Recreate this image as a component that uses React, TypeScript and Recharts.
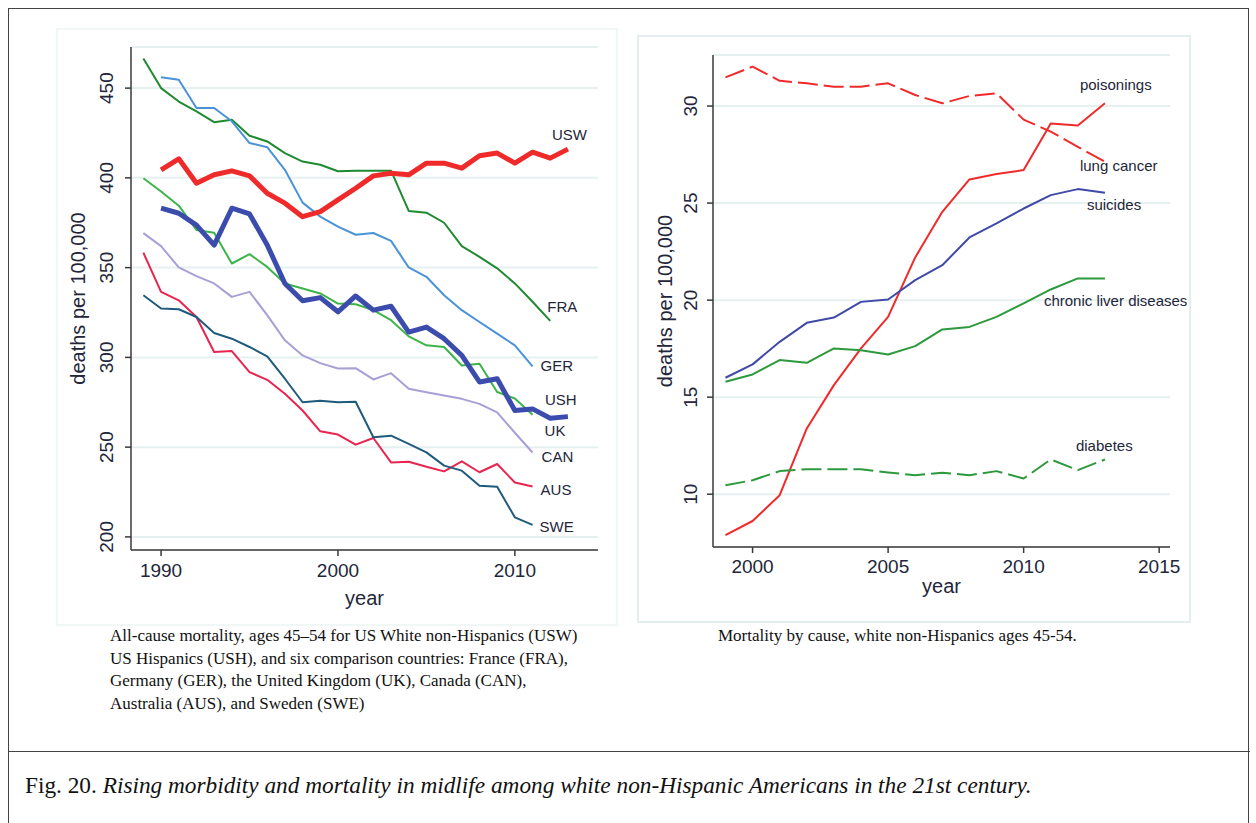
import React from 'react';
import { LineChart, Line, XAxis, YAxis, CartesianGrid, LabelList, Label } from 'recharts';

// ---------- Left panel data: all-cause mortality, ages 45-54 ----------
const leftYears = [1989, 1990, 1991, 1992, 1993, 1994, 1995, 1996, 1997, 1998, 1999, 2000, 2001, 2002, 2003, 2004, 2005, 2006, 2007, 2008, 2009, 2010, 2011, 2012, 2013];
const usw = [null, 404.5, 410.6, 397, 401.7, 403.9, 401.1, 391.4, 385.9, 378.4, 381.2, 387.7, 394.2, 401.1, 402.6, 401.7, 408.2, 408.2, 405.4, 412.3, 413.8, 408.2, 414.3, 411, 416];
const fra = [466.5, 450, 442.5, 437, 431, 432.4, 423.5, 420.3, 413.8, 409.1, 407.3, 403.7, 404, 404, 404, 381.6, 380.6, 375, 362, 356, 349.6, 341.2, 331, 320.3, null];
const ger = [null, 456, 454.7, 438.9, 438.9, 431.5, 419.4, 417.1, 404.5, 386.2, 378.4, 372.8, 368.3, 369.3, 364.9, 350.1, 344.9, 334.6, 326.3, 319.7, 313.2, 306.7, 295, null, null];
const ush = [null, 383.1, 380.3, 373.7, 362.5, 383.1, 379.9, 362.6, 341.2, 331.5, 333.3, 325.4, 334.2, 326.3, 328.5, 314.1, 316.9, 310.4, 301.1, 286.3, 288.1, 270.4, 271.3, 266.1, 267];
const uk = [399.8, 392.4, 384.5, 371, 369.4, 352.3, 357.5, 350.4, 341.2, 338.4, 335.6, 330, 329.6, 326.3, 320.7, 311.7, 306.7, 305.8, 295.5, 296.5, 280.7, 277.1, 268, null, null];
const can = [369.2, 362, 350.1, 345.3, 341.2, 333.7, 336.5, 323.5, 309.5, 301.1, 296.8, 293.8, 294, 287.7, 291.2, 282.5, 280.6, 278.8, 276.9, 274.1, 269.4, 258, 247, null, null];
const aus = [358.3, 336.5, 331.8, 322.5, 303, 303.5, 291.8, 287.5, 279.7, 270.4, 258.8, 257, 251.4, 255.1, 241.5, 241.9, 239.1, 236.5, 242.1, 236, 240.6, 230.3, 228.1, null, null];
const swe = [334.6, 327.2, 326.8, 322.5, 313.6, 310.4, 305.8, 300.6, 288.1, 275, 275.9, 275, 275.3, 255.5, 256.4, 251.8, 247.1, 239.7, 236.9, 228.5, 228, 210.9, 206.7, null, null];
const leftXTicks = [1990, 2000, 2010];
const leftYTicks = [200, 250, 300, 350, 400, 450];

// ---------- Right panel data: mortality by cause ----------
const rightYears = [1999, 2000, 2001, 2002, 2003, 2004, 2005, 2006, 2007, 2008, 2009, 2010, 2011, 2012, 2013];
const lungCancer = [31.48, 32.03, 31.3, 31.17, 31.0, 31.0, 31.17, 30.57, 30.14, 30.52, 30.65, 29.3, 28.68, 27.9, 27.13];
const poisonings = [7.89, 8.62, 9.95, 13.39, 15.62, 17.51, 19.14, 22.2, 24.55, 26.22, 26.5, 26.7, 29.1, 29.0, 30.14];
const suicides = [16.0, 16.69, 17.85, 18.83, 19.1, 19.91, 20.03, 21.03, 21.8, 23.23, 23.95, 24.72, 25.41, 25.72, 25.53];
const liver = [15.79, 16.17, 16.91, 16.77, 17.51, 17.42, 17.2, 17.63, 18.49, 18.62, 19.14, 19.83, 20.55, 21.12, 21.12];
const diabetes = [10.46, 10.72, 11.19, 11.29, 11.29, 11.29, 11.12, 10.98, 11.1, 10.98, 11.19, 10.81, 11.79, 11.24, 11.79];
const rightXTicks = [2000, 2005, 2010, 2015];
const rightYTicks = [10, 15, 20, 25, 30];

const leftData = leftYears.map((year, i) => ({
  year, USW: usw[i], FRA: fra[i], GER: ger[i], USH: ush[i], UK: uk[i], CAN: can[i], AUS: aus[i], SWE: swe[i],
}));
const rightData = rightYears.map((year, i) => ({
  year, lung: lungCancer[i], poison: poisonings[i], suicides: suicides[i], liver: liver[i], diabetes: diabetes[i],
}));

const SANS = '"Liberation Sans", Arial, sans-serif';
const SERIF = '"Liberation Serif", "Times New Roman", serif';
const TXT = '#23263a';
const AXIS = '#3a3a3a';
const GRID = '#e6f0f0';

type SeriesCfg = { key: string; label: string; color: string; width: number; dash?: string; dx: number; dy: number; values: (number | null)[] };

const leftSeries: SeriesCfg[] = [
  { key: 'FRA', label: 'FRA', color: '#1f8a30', width: 2, dx: -3, dy: -9, values: fra },
  { key: 'GER', label: 'GER', color: '#4a93d8', width: 2, dx: 8, dy: 5, values: ger },
  { key: 'CAN', label: 'CAN', color: '#a99fd6', width: 2, dx: 9, dy: 9, values: can },
  { key: 'AUS', label: 'AUS', color: '#e8254e', width: 2, dx: 8, dy: 9, values: aus },
  { key: 'SWE', label: 'SWE', color: '#1f5b7c', width: 2, dx: 7, dy: 7, values: swe },
  { key: 'UK', label: 'UK', color: '#3cb44a', width: 2, dx: 12, dy: 21, values: uk },
  { key: 'USH', label: 'USH', color: '#3b4cad', width: 5, dx: -23, dy: -12, values: ush },
  { key: 'USW', label: 'USW', color: '#ee2a2a', width: 5, dx: -16, dy: -9, values: usw },
];

const rightSeries: SeriesCfg[] = [
  { key: 'lung', label: 'lung cancer', color: '#f02a2a', width: 2, dash: '20 6', dx: -25, dy: 9, values: lungCancer },
  { key: 'poison', label: 'poisonings', color: '#f02a2a', width: 2, dx: -25, dy: -13, values: poisonings },
  { key: 'suicides', label: 'suicides', color: '#3f4aa8', width: 2, dx: -18, dy: 17, values: suicides },
  { key: 'liver', label: 'chronic liver diseases', color: '#2c9a3c', width: 2, dx: -61, dy: 28, values: liver },
  { key: 'diabetes', label: 'diabetes', color: '#2c9a3c', width: 2, dash: '20 6', dx: -29, dy: -8, values: diabetes },
];

const lastIndex = (vals: (number | null)[]) => {
  let li = -1;
  vals.forEach((v, i) => { if (v !== null && v !== undefined) li = i; });
  return li;
};

const endLabel = (s: SeriesCfg) => {
  const li = lastIndex(s.values);
  return (props: any) => {
    if (props.index !== li || props.x == null || props.y == null) return null;
    return (
      <text x={Number(props.x) + s.dx} y={Number(props.y) + s.dy} fontFamily={SANS} fontSize={15} fill={TXT}>
        {s.label}
      </text>
    );
  };
};

const yTick = (baseX: number) => (props: any) => {
  const { y, payload } = props;
  return (
    <text x={baseX} y={y} transform={`rotate(-90, ${baseX}, ${y})`} textAnchor="middle" fontFamily={SANS} fontSize={19} fill={TXT}>
      {payload.value}
    </text>
  );
};

const xTick = (baseY: number) => (props: any) => {
  const { x, payload } = props;
  return (
    <text x={x} y={baseY} textAnchor="middle" fontFamily={SANS} fontSize={19} fill={TXT}>
      {payload.value}
    </text>
  );
};

const yTitle = (baseX: number) => (props: any) => {
  const vb = props.viewBox || {};
  const cy = vb.y + vb.height / 2;
  return (
    <text x={baseX} y={cy} transform={`rotate(-90, ${baseX}, ${cy})`} textAnchor="middle" fontFamily={SANS} fontSize={20} fill={TXT}>
      deaths per 100,000
    </text>
  );
};

const xTitle = (baseY: number) => (props: any) => {
  const vb = props.viewBox || {};
  const cx = vb.x + vb.width / 2;
  return (
    <text x={cx} y={baseY} textAnchor="middle" fontFamily={SANS} fontSize={20} fill={TXT}>
      year
    </text>
  );
};

function LeftChart() {
  return (
    <LineChart width={620} height={620} data={leftData} margin={{ top: 47, right: 22, bottom: 40, left: 91 }}>
      <CartesianGrid vertical={false} stroke={GRID} strokeWidth={2} />
      <XAxis
        dataKey="year" type="number" domain={[1988.3, 2014.7]} ticks={leftXTicks} allowDataOverflow
        height={30} axisLine={{ stroke: AXIS, strokeWidth: 1.5 }} tickLine={{ stroke: AXIS, strokeWidth: 1.5 }} tickSize={6}
        tick={xTick(577)} interval={0}
      >
        <Label content={xTitle(605)} />
      </XAxis>
      <YAxis
        type="number" domain={[192.7, 472.9]} ticks={leftYTicks} allowDataOverflow width={40}
        axisLine={{ stroke: AXIS, strokeWidth: 1.5 }} tickLine={{ stroke: AXIS, strokeWidth: 1.5 }} tickSize={6}
        tick={yTick(113)} interval={0}
      >
        <Label content={yTitle(85)} />
      </YAxis>
      {leftSeries.map((s) => (
        <Line key={s.key} dataKey={s.key} type="linear" stroke={s.color} strokeWidth={s.width} dot={false}
          isAnimationActive={false} strokeLinejoin="round" strokeLinecap="butt" connectNulls={false}>
          <LabelList dataKey={s.key} content={endLabel(s)} />
        </Line>
      ))}
    </LineChart>
  );
}

function RightChart() {
  return (
    <LineChart width={600} height={620} data={rightData} margin={{ top: 55, right: 60, bottom: 43, left: 43 }}>
      <CartesianGrid vertical={false} stroke={GRID} strokeWidth={2} />
      <XAxis
        dataKey="year" type="number" domain={[1998.54, 2015.4]} ticks={rightXTicks} allowDataOverflow
        height={30} axisLine={{ stroke: AXIS, strokeWidth: 1.5 }} tickLine={{ stroke: AXIS, strokeWidth: 1.5 }} tickSize={6}
        tick={xTick(573)} interval={0}
      >
        <Label content={xTitle(593)} />
      </XAxis>
      <YAxis
        type="number" domain={[7.28, 32.63]} ticks={rightYTicks} allowDataOverflow width={40}
        axisLine={{ stroke: AXIS, strokeWidth: 1.5 }} tickLine={{ stroke: AXIS, strokeWidth: 1.5 }} tickSize={6}
        tick={yTick(67)} interval={0}
      >
        <Label content={yTitle(42)} />
      </YAxis>
      {rightSeries.map((s) => (
        <Line key={s.key} dataKey={s.key} type="linear" stroke={s.color} strokeWidth={s.width} dot={false}
          strokeDasharray={s.dash} isAnimationActive={false} strokeLinejoin="round">
          <LabelList dataKey={s.key} content={endLabel(s)} />
        </Line>
      ))}
    </LineChart>
  );
}

export default function App() {
  return (
    <div style={{ position: 'absolute', left: 0, top: 0, width: 1256, height: 823, background: '#fff', overflow: 'hidden' }}>
      {/* outer frame */}
      <div style={{ position: 'absolute', left: 8, top: 8, width: 1241, height: 860, border: '1.5px solid #444', boxSizing: 'border-box' }} />
      <div style={{ position: 'absolute', left: 8, top: 751, width: 1242, height: 0, borderTop: '1.5px solid #444' }} />
      {/* panel backgrounds */}
      <div style={{ position: 'absolute', left: 56, top: 28, width: 562, height: 598, border: '2px solid #f1f6f6', boxSizing: 'border-box' }} />
      <div style={{ position: 'absolute', left: 637, top: 35, width: 554, height: 588, border: '2px solid #e4eeee', boxSizing: 'border-box' }} />
      <div style={{ position: 'absolute', left: 0, top: 0 }}>
        <LeftChart />
      </div>
      <div style={{ position: 'absolute', left: 630, top: 0 }}>
        <RightChart />
      </div>
      {/* captions */}
      <div style={{ position: 'absolute', left: 110, top: 625, fontFamily: SERIF, fontSize: 17, lineHeight: '22.7px', color: '#111', whiteSpace: 'nowrap' }}>
        All-cause mortality, ages 45–54 for US White non-Hispanics (USW)<br />
        US Hispanics (USH), and six comparison countries: France (FRA),<br />
        Germany (GER), the United Kingdom (UK), Canada (CAN),<br />
        Australia (AUS), and Sweden (SWE)
      </div>
      <div style={{ position: 'absolute', left: 718, top: 625, fontFamily: SERIF, fontSize: 17, lineHeight: '22.7px', color: '#111', whiteSpace: 'nowrap' }}>
        Mortality by cause, white non-Hispanics ages 45-54.
      </div>
      <div style={{ position: 'absolute', left: 25, top: 770, fontFamily: SERIF, fontSize: 23.3, lineHeight: '30px', color: '#111', whiteSpace: 'nowrap' }}>
        Fig. 20. <i>Rising morbidity and mortality in midlife among white non-Hispanic Americans in the 21st century.</i>
      </div>
    </div>
  );
}
